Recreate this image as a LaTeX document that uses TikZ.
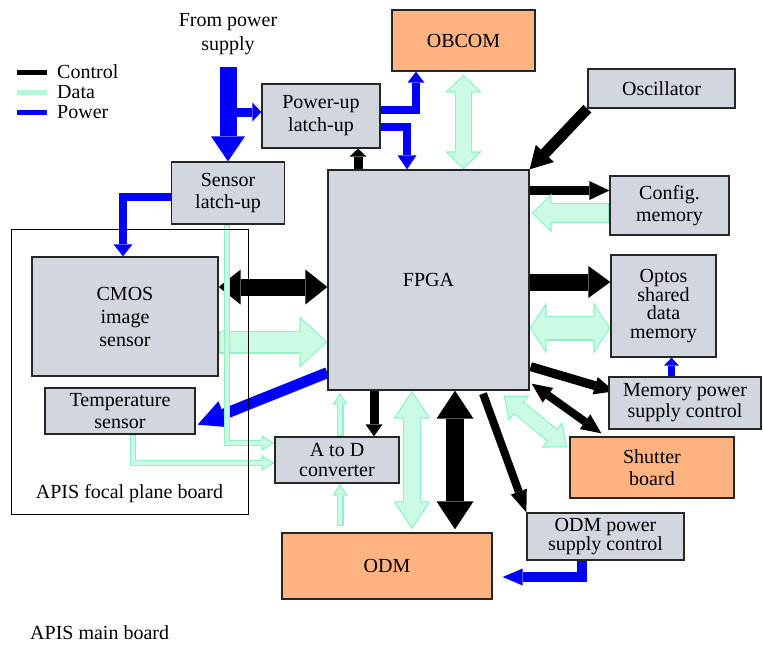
\documentclass[tikz,border=0pt]{standalone}
\usepackage{fontspec}
\setmainfont{Liberation Serif}
\usepackage{xcolor}
\usepackage{tikz}
\usetikzlibrary{positioning,arrows.meta,calc,backgrounds}
\definecolor{cBox}{HTML}{D1D6DF}
\definecolor{cHot}{HTML}{FFB380}
\definecolor{cEdge}{HTML}{8EF3C4}
\definecolor{cFill}{HTML}{CBFBE4}
\definecolor{cPow}{HTML}{0000FF}

% hollow data arrow: shaft, head width, head length, tips, path
\newcommand\datarrow[5]{%
  \pgfmathsetmacro\dk{1.2*sqrt((#3)^2+(#2/2)^2)/(#2/2)}%
  \pgfmathsetmacro\dl{#3-1.2-\dk}%
  \pgfmathsetmacro\dw{\dl*#2/#3}%
  \pgfmathsetmacro\dsh{#1-2.4}%
  \def\dtips{#4}\def\dtwo{<->}%
  \ifx\dtips\dtwo\def\dstart{\dk pt}\else\def\dstart{1.2pt}\fi
  \draw[draw=cEdge,line width=#1pt,ahead={#2}{#3},#4] #5;
  \draw[draw=cFill,line width=\dsh pt,ahead={\dw}{\dl},#4,shorten >=\dk pt,shorten <=\dstart] #5;
}

\begin{document}
\begin{tikzpicture}[
  x=1pt,y=-1pt,
  font=\fontsize{20}{22}\selectfont,
  box/.style={draw=black!85,line width=1.3pt,fill=cBox,inner sep=1pt,align=center},
  hot/.style={box,fill=cHot},
  lbl/.style={inner sep=2pt,align=center},
  ahead/.style 2 args={>={Triangle[width=#1pt,length=#2pt,line width=0pt]}},
  ctrl/.style={draw=black},
  pwr/.style={draw=cPow}
]
\useasboundingbox (0,0) rectangle (763,645);
% legend
\node[lbl,anchor=west] (lctrl) at (55,72) {Control};
\node[lbl,anchor=west] (ldata) at (55,92) {Data};
\node[lbl,anchor=west] (lpow) at (55,112) {Power};
\draw[ctrl,line width=5pt] ($(lctrl.west)+(-38,0)$) -- ($(lctrl.west)+(-8,0)$);
\draw[draw=cFill!60!cEdge,line width=5pt] ($(ldata.west)+(-38,0)$) -- ($(ldata.west)+(-8,0)$);
\draw[pwr,line width=5pt] ($(lpow.west)+(-38,0)$) -- ($(lpow.west)+(-8,0)$);
\node[lbl,font=\fontsize{20}{24}\selectfont] (feedtxt) at (228,34) {From power\\supply};
\coordinate (feed) at (228,67);
% boards
\node[draw=black,line width=1pt,minimum width=237pt,minimum height=285pt] (focal) at (129.5,371.5) {};
\node[lbl] (focaltxt) at ($(focal.south)+(0,-21)$) {APIS focal plane board};
\node[lbl,anchor=west] (maintxt) at (28,633) {APIS main board};
% blocks
\node[box,minimum width=118pt,minimum height=64pt,font=\fontsize{20}{23}\selectfont] (pwrup) at (321,116) {Power-up\\latch-up};
\node[box,minimum width=113pt,minimum height=62pt] (senlu) at (228,193) {Sensor\\latch-up};
\node[box,minimum width=201pt,minimum height=220pt] (fpga) at (428.5,280) {FPGA};
\node[hot,minimum width=143pt,minimum height=61pt] (obcom) at (463.5,40.5) {OBCOM};
\node[box,minimum width=147pt,minimum height=39pt] (osc) at (661.5,88.5) {Oscillator};
\node[box,minimum width=119pt,minimum height=59pt] (config) at (669.5,205.5) {Config.\\memory};
\node[box,minimum width=105pt,minimum height=102pt,font=\fontsize{20}{18.5}\selectfont] (optos) at (663.5,306) {Optos\\shared\\data\\memory};
\node[box,minimum width=152pt,minimum height=52pt,font=\fontsize{20}{21}\selectfont] (mempwr) at (685,403) {Memory power\\supply control};
\node[hot,minimum width=164pt,minimum height=61pt] (shutter) at (652,467.5) {Shutter\\board};
\node[box,minimum width=157pt,minimum height=47pt,font=\fontsize{20}{18}\selectfont] (odmpwr) at (605.5,536.5) {ODM power\\supply control};
\node[hot,minimum width=210pt,minimum height=66pt] (odm) at (387,566) {ODM};
\node[box,minimum width=124pt,minimum height=46pt,font=\fontsize{20}{19.5}\selectfont] (atod) at (337,460) {A to D\\converter};
\node[box,minimum width=186pt,minimum height=119pt,font=\fontsize{20}{23}\selectfont] (cmos) at (125,316.5) {CMOS\\image\\sensor};
\node[box,minimum width=150pt,minimum height=46pt] (temp) at (120,411) {Temperature\\sensor};
\begin{scope}[on background layer]
% control
\draw[ctrl,line width=9pt,ahead={17}{8},->] ($(pwrup.south |- fpga.north)+(37,0)$) -- ($(pwrup.south)+(37,0)$);
\draw[ctrl,line width=11pt,ahead={25}{22},->] (osc.south west) -- (fpga.north east);
\draw[ctrl,line width=9pt,ahead={19}{20},->] ($(config.west -| fpga.east)+(0,-15)$) -- ($(config.west)+(0,-15)$);
\draw[ctrl,line width=17pt,ahead={35}{22},<->] ($(cmos.east)+(0,-29.5)$) -- ($(cmos.east -| fpga.west)+(0,-29.5)$);
\draw[ctrl,line width=17pt,ahead={32}{22},->] ($(optos.west -| fpga.east)+(0,-24)$) -- ($(optos.west)+(0,-24)$);
\draw[ctrl,line width=9pt,ahead={18}{20},->] ($(fpga.south east)+(1,-24)$) -- ($(mempwr.north west)+(6,15)$);
\draw[ctrl,line width=8pt,ahead={18}{20},<->] ($(fpga.south east)+(2,-7)$) -- ($(shutter.north west)+(32,-3)$);
\draw[ctrl,line width=9pt,ahead={17}{12},->] ($(atod.north |- fpga.south)+(37,0)$) -- ($(atod.north)+(37,0)$);
\draw[ctrl,line width=18pt,ahead={37}{28},<->] ($(odm.north |- fpga.south)+(68,0)$) -- ($(odm.north)+(68,-3)$);
\draw[ctrl,line width=8pt,ahead={17}{22},->] ($(fpga.south)+(54.5,3)$) -- (odmpwr.north west);
% power
\draw[pwr,line width=17pt,ahead={34}{25},->] (feed) -- (senlu.north);
\draw[pwr,line width=9pt,ahead={19}{9},->] ($(pwrup.west -| feed)+(0,-4)$) -- ($(pwrup.west)+(0,-4)$);
\draw[pwr,line width=8pt,ahead={17}{11},->] ($(pwrup.east)+(0,-6)$) -| ($(obcom.south)+(-47.5,0)$);
\draw[pwr,line width=8pt,ahead={19}{14},->] ($(pwrup.east)+(0,11)$) -| ($(fpga.north)+(-21.5,0)$);
\draw[pwr,line width=8pt,ahead={19}{12},->] ($(senlu.west)+(0,4)$) -| ($(cmos.north)+(-2,0)$);
\draw[pwr,line width=11pt,ahead={28}{28},->] ($(fpga.south west)+(0,-18)$) -- ($(temp.south east)+(2,-10)$);
\draw[pwr,line width=10pt,ahead={17}{20},->] ($(odmpwr.south)+(-23.5,0)$) |- ($(odm.east)+(10,11)$);
\draw[pwr,line width=7pt,ahead={15}{8},->] ($(optos.south |- mempwr.north)+(8,0)$) -- ($(optos.south)+(8,0)$);
% data
\datarrow{17}{37}{18}{<->}{($(obcom.south)+(0,3)$) -- (obcom.south |- fpga.north)}
\datarrow{20}{39}{20}{->}{($(config.west)+(0,7.5)$) -- ($(config.west -| fpga.east)+(2,7.5)$)}
\datarrow{23}{52}{28}{->}{($(cmos.east)+(0,25.5)$) -- ($(cmos.east -| fpga.west)+(0,25.5)$)}
\datarrow{25}{52}{17}{<->}{($(optos.west -| fpga.east)+(0,22)$) -- ($(optos.west)+(0,22)$)}
\datarrow{16}{33}{20}{<->}{($(fpga.south east)+(-26,5)$) -- ($(shutter.north west)+(-2,11)$)}
\datarrow{18}{37}{28}{<->}{($(odm.north |- fpga.south)+(25,0)$) -- ($(odm.north)+(25,-3)$)}
\datarrow{7}{15}{12}{->}{($(atod.north)+(3,0)$) -- ($(atod.north |- fpga.south)+(3,2)$)}
\datarrow{7}{15}{12}{->}{($(atod.south |- odm.north)+(3,-6)$) -- ($(atod.south)+(3,0)$)}
\datarrow{6}{16}{13}{->}{($(temp.south)+(13,0)$) |- ($(atod.west)+(0,3)$)}
\datarrow{6}{16}{13}{->}{($(senlu.south)+(-1,0)$) |- ($(atod.west)+(0,-17)$)}
\end{scope}
\end{tikzpicture}
\end{document}
